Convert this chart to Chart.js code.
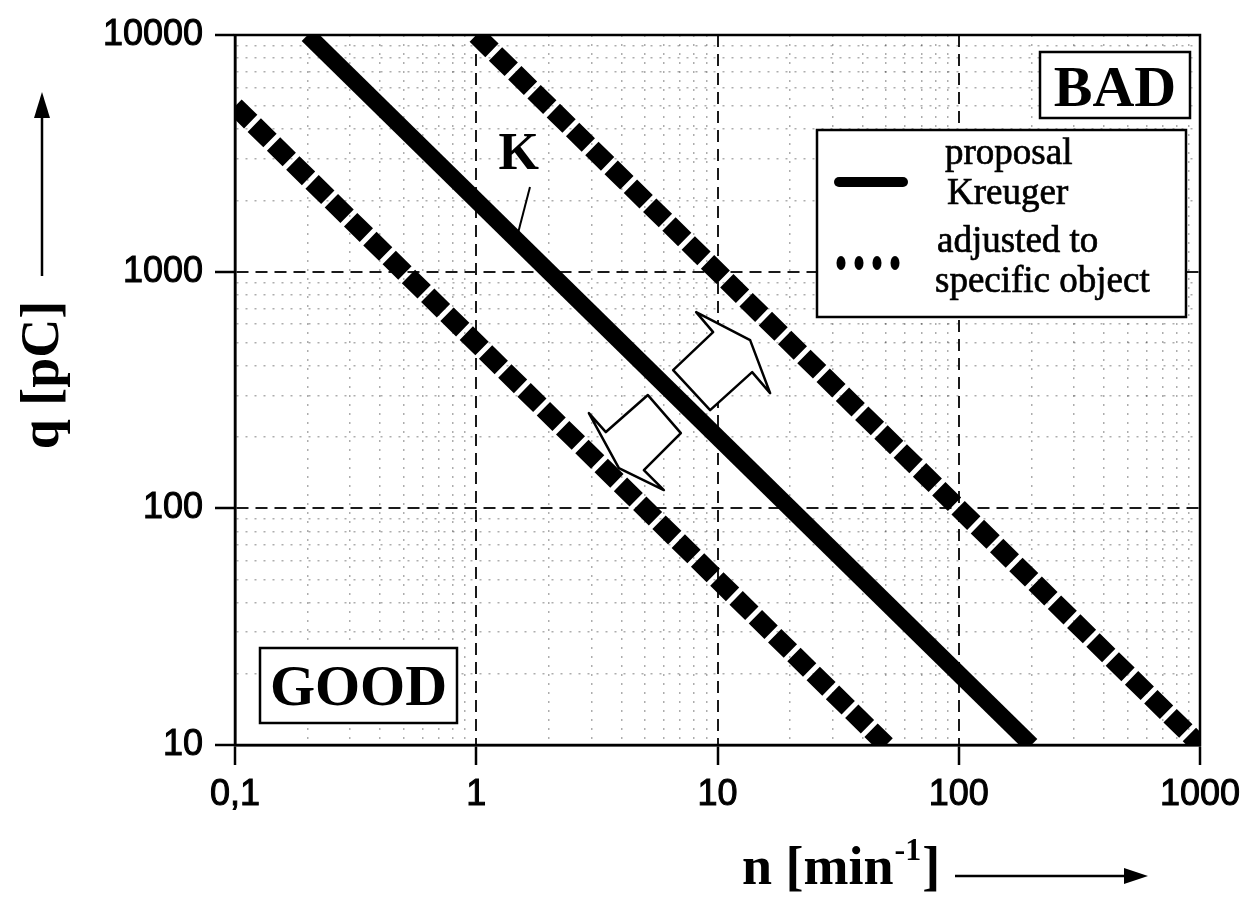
<!DOCTYPE html>
<html>
<head>
<meta charset="utf-8">
<title>q vs n</title>
<script src="https://cdn.jsdelivr.net/npm/chart.js@4/dist/chart.umd.min.js"></script>
<style>
	html, body { margin: 0; padding: 0; background: #fff; }
	#wrap { width: 1255px; height: 898px; }
</style>
</head>
<body>
<div id="wrap"><canvas id="pdChart" width="1255" height="898"></canvas></div>
<script>
// Limit lines: q = c / n, straight on log-log axes, so two end points each
const kreugerN = [0.2, 200];
const kreugerQ = [10000, 10];
const objectLowN = [0.1, 50];
const objectLowQ = [5000, 10];
const objectHighN = [1, 1000];
const objectHighQ = [10000, 10];

// Axis decades and their printed labels
const nDecades = [0.1, 1, 10, 100, 1000];
const nTickLabels = ["0,1", "1", "10", "100", "1000"];
const qDecades = [10, 100, 1000, 10000];
const qTickLabels = ["10", "100", "1000", "10000"];

const SERIF = '"Liberation Serif", "Times New Roman", serif';
const SANS = '"Liberation Sans", Arial, sans-serif';

function toPoints(xs, ys) {
	return xs.map((x, i) => ({ x: x, y: ys[i] }));
}

// decades plus the 2..9 subdivisions between them
function logTicks(decades) {
	const out = [];
	decades.forEach((d, i) => {
		out.push(d);
		if (i < decades.length - 1) {
			for (let m = 2; m <= 9; m++) out.push(+(d * m).toPrecision(4));
		}
	});
	return out;
}

function decadeIndex(value, decades) {
	return decades.findIndex((d) => Math.abs(d - value) / d < 1e-6);
}

function gridFor(decades) {
	const major = (ctx) => ctx.tick && decadeIndex(ctx.tick.value, decades) >= 0;
	return {
		grid: {
			color: (ctx) => (major(ctx) ? "#1a1a1a" : "rgba(0,0,0,0.32)"),
			lineWidth: (ctx) => (major(ctx) ? 2 : 1.5),
			drawTicks: true,
			tickLength: 20,
			tickWidth: 2.5,
			tickColor: (ctx) => (major(ctx) ? "#000" : "rgba(0,0,0,0)"),
		},
		border: {
			display: true,
			color: "#000",
			width: 2.5,
			dash: (ctx) => (ctx.tick ? (major(ctx) ? [12, 7] : [2, 7]) : []),
		},
	};
}

// frame, axis titles, boxes, legend and the hand-drawn annotations
const decorations = {
	id: "decorations",
	afterDraw(chart) {
		const ctx = chart.ctx;
		const a = chart.chartArea;
		const sx = chart.scales.x;
		const sy = chart.scales.y;
		const px = (n, q) => [sx.getPixelForValue(n), sy.getPixelForValue(q)];

		ctx.save();
		ctx.strokeStyle = "#000";
		ctx.fillStyle = "#000";

		// plot frame
		ctx.lineWidth = 2.5;
		ctx.strokeRect(a.left, a.top, a.right - a.left, a.bottom - a.top);

		// y title with upward arrow
		ctx.save();
		ctx.translate(44, 375);
		ctx.rotate(-Math.PI / 2);
		ctx.font = "bold 54px " + SERIF;
		ctx.textAlign = "center";
		ctx.textBaseline = "middle";
		ctx.fillText("q [pC]", 0, 0);
		ctx.restore();
		ctx.lineWidth = 2.5;
		ctx.beginPath();
		ctx.moveTo(42, 276);
		ctx.lineTo(42, 112);
		ctx.stroke();
		ctx.beginPath();
		ctx.moveTo(42, 92);
		ctx.lineTo(34, 118);
		ctx.lineTo(50, 118);
		ctx.closePath();
		ctx.fill();

		// x title "n [min-1]" with arrow to the right
		ctx.textAlign = "left";
		ctx.textBaseline = "alphabetic";
		ctx.font = "bold 54px " + SERIF;
		let tx = 742;
		const base = 884;
		ctx.fillText("n [min", tx, base);
		tx += ctx.measureText("n [min").width;
		ctx.font = "bold 32px " + SERIF;
		ctx.fillText("-1", tx + 1, base - 24);
		tx += ctx.measureText("-1").width + 2;
		ctx.font = "bold 54px " + SERIF;
		ctx.fillText("]", tx, base);
		ctx.lineWidth = 2.5;
		ctx.beginPath();
		ctx.moveTo(955, 876);
		ctx.lineTo(1128, 876);
		ctx.stroke();
		ctx.beginPath();
		ctx.moveTo(1148, 876);
		ctx.lineTo(1124, 868);
		ctx.lineTo(1124, 884);
		ctx.closePath();
		ctx.fill();

		// boxed region labels
		function boxLabel(text, x, y, w, h, baseline) {
			ctx.fillStyle = "#fff";
			ctx.fillRect(x, y, w, h);
			ctx.lineWidth = 2.5;
			ctx.strokeRect(x, y, w, h);
			ctx.fillStyle = "#000";
			ctx.font = "bold 58px " + SERIF;
			ctx.textAlign = "center";
			ctx.fillText(text, x + w / 2, baseline);
		}
		boxLabel("BAD", a.right - 160, a.top + 17, 150, 66, a.top + 71);
		boxLabel("GOOD", a.left + 25, a.bottom - 97, 197, 75, a.bottom - 40);

		// legend
		const lx = a.right - 383;
		const ly = a.top + 95;
		ctx.fillStyle = "#fff";
		ctx.fillRect(lx, ly, 369, 187);
		ctx.lineWidth = 2.5;
		ctx.strokeRect(lx, ly, 369, 187);
		ctx.fillStyle = "#000";
		ctx.lineWidth = 10;
		ctx.lineCap = "round";
		ctx.beginPath();
		ctx.moveTo(lx + 22, ly + 52);
		ctx.lineTo(lx + 86, ly + 52);
		ctx.stroke();
		ctx.lineCap = "butt";
		for (let i = 0; i < 4; i++) {
			ctx.beginPath();
			ctx.ellipse(lx + 24 + i * 18, ly + 133, 4.5, 7, 0, 0, Math.PI * 2);
			ctx.fill();
		}
		ctx.font = "37px " + SERIF;
		ctx.textAlign = "left";
		ctx.lineWidth = 0.7;
		const legendText = (t, x, y) => {
			ctx.fillText(t, x, y);
			ctx.strokeText(t, x, y);
		};
		legendText("proposal", lx + 128, ly + 34);
		legendText("Kreuger", lx + 130, ly + 74);
		legendText("adjusted to", lx + 120, ly + 122);
		legendText("specific object", lx + 118, ly + 162);

		// K marker with leader to the Kreuger line
		const kt = px(1.5, 3100);
		ctx.font = "bold 52px " + SERIF;
		ctx.textAlign = "center";
		ctx.textBaseline = "middle";
		ctx.fillText("K", kt[0], kt[1]);
		const k1 = px(1.67, 2280);
		const k2 = px(1.49, 1456);
		ctx.lineWidth = 2;
		ctx.beginPath();
		ctx.moveTo(k1[0], k1[1]);
		ctx.lineTo(k2[0], k2[1]);
		ctx.stroke();

		// hollow block arrows either side of the Kreuger line
		function blockArrow(anchor, offsets) {
			const c = px(anchor[0], anchor[1]);
			ctx.beginPath();
			offsets.forEach((o, i) => {
				if (i === 0) ctx.moveTo(c[0] + o[0], c[1] + o[1]);
				else ctx.lineTo(c[0] + o[0], c[1] + o[1]);
			});
			ctx.closePath();
			ctx.fillStyle = "#fff";
			ctx.fill();
			ctx.lineWidth = 2.5;
			ctx.lineJoin = "round";
			ctx.stroke();
		}
		blockArrow([9.5, 380], [[-16, -59], [38, -31], [58, 22], [40, 1], [-2, 39], [-39, -1], [1, -39]]);
		blockArrow([5, 208], [[-56, -20], [-39, -1], [3, -38], [36, 0], [-1, 37], [19, 57], [-26, 35]]);

		ctx.restore();
	},
};

document.addEventListener("DOMContentLoaded", function () {
	const ctx = document.getElementById("pdChart").getContext("2d");

	const xGrid = gridFor(nDecades);
	const yGrid = gridFor(qDecades);

	const tickFont = { family: SANS, size: 36 };

	new Chart(ctx, {
		type: "line",
		data: {
			datasets: [
				{
					label: "adjusted to specific object",
					data: toPoints(objectLowN, objectLowQ),
					borderColor: "#000",
					borderWidth: 19,
					borderDash: [22, 5],
					borderCapStyle: "butt",
					pointRadius: 0,
					fill: false,
				},
				{
					label: "proposal Kreuger",
					data: toPoints(kreugerN, kreugerQ),
					borderColor: "#000",
					borderWidth: 17,
					borderCapStyle: "butt",
					pointRadius: 0,
					fill: false,
				},
				{
					label: "adjusted to specific object (upper)",
					data: toPoints(objectHighN, objectHighQ),
					borderColor: "#000",
					borderWidth: 19,
					borderDash: [22, 5],
					borderCapStyle: "butt",
					pointRadius: 0,
					fill: false,
				},
			],
		},
		options: {
			responsive: false,
			animation: false,
			devicePixelRatio: 1,
			layout: { padding: { top: 35, right: 55, left: 0, bottom: 0 } },
			plugins: {
				legend: { display: false },
				tooltip: { enabled: false },
			},
			scales: {
				x: {
					type: "logarithmic",
					position: "bottom",
					min: 0.1,
					max: 1000,
					afterBuildTicks: (scale) => {
						scale.ticks = logTicks(nDecades).map((v) => ({ value: v }));
					},
					afterFit: (scale) => {
						scale.height = 153;
					},
					ticks: {
						autoSkip: false,
						maxRotation: 0,
						padding: 8,
						color: "#000",
						textStrokeColor: "#000",
						textStrokeWidth: 1,
						font: tickFont,
						callback: (value) => {
							const i = decadeIndex(value, nDecades);
							return i >= 0 ? nTickLabels[i] : "";
						},
					},
					grid: xGrid.grid,
					border: xGrid.border,
				},
				y: {
					type: "logarithmic",
					position: "left",
					min: 10,
					max: 10000,
					afterBuildTicks: (scale) => {
						scale.ticks = logTicks(qDecades).map((v) => ({ value: v }));
					},
					afterFit: (scale) => {
						scale.width = 235;
					},
					ticks: {
						autoSkip: false,
						padding: 12,
						color: "#000",
						textStrokeColor: "#000",
						textStrokeWidth: 1,
						font: tickFont,
						callback: (value) => {
							const i = decadeIndex(value, qDecades);
							return i >= 0 ? qTickLabels[i] : "";
						},
					},
					grid: yGrid.grid,
					border: yGrid.border,
				},
			},
		},
		plugins: [decorations],
	});
});
</script>
</body>
</html>
